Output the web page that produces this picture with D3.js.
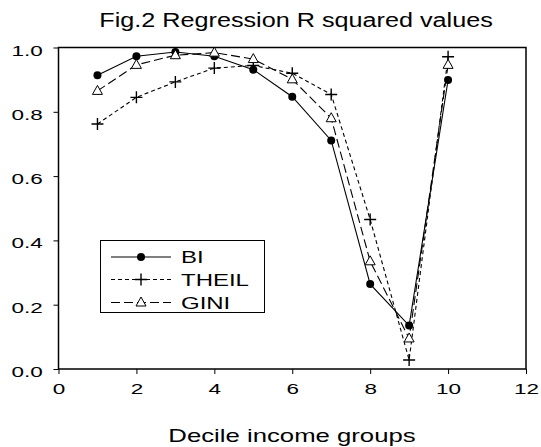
<!DOCTYPE html>
<html>
<head>
<meta charset="utf-8">
<script src="https://cdn.jsdelivr.net/npm/d3@7"></script>
<style>
  html, body { margin: 0; padding: 0; background: #fff; }
  svg { display: block; font-family: "Liberation Sans", Arial, sans-serif; }
</style>
</head>
<body>
<svg id="chart" width="541" height="447"></svg>
<script>
// Decile income groups and R squared by inequality measure
const deciles = [1, 2, 3, 4, 5, 6, 7, 8, 9, 10];
const biValues    = [0.914, 0.973, 0.986, 0.973, 0.931, 0.847, 0.711, 0.264, 0.135, 0.899];
const theilValues = [0.762, 0.845, 0.893, 0.936, 0.944, 0.920, 0.854, 0.465, 0.028, 0.971];
const giniValues  = [0.865, 0.946, 0.976, 0.984, 0.964, 0.901, 0.780, 0.335, 0.095, 0.946];
const xTicks = [0, 2, 4, 6, 8, 10, 12];
const yTicks = [0.0, 0.2, 0.4, 0.6, 0.8, 1.0];

const series = [
  { name: "BI",    values: biValues,    dash: null,    marker: "circle" },
  { name: "THEIL", values: theilValues, dash: "4,3",   marker: "plus" },
  { name: "GINI",  values: giniValues,  dash: "9,4",   marker: "triangle" }
];

const svg = d3.select("#chart");
const m = { left: 58.5, right: 526, top: 47.5, bottom: 369 };

const x = d3.scaleLinear().domain([0, 12]).range([m.left, m.right]);
const y = d3.scaleLinear().domain([0, 1]).range([m.bottom, m.top]);

// text drawn in a wide face: glyphs stretched horizontally around their anchor
function wideText(parent, tx, ty, str, size, sx, anchor) {
  return parent.append("text")
    .attr("transform", `translate(${tx},${ty}) scale(${sx},1)`)
    .attr("text-anchor", anchor || "start")
    .attr("font-size", size)
    .text(str);
}

// title
wideText(svg, 296, 27, "Fig.2 Regression R squared values", 21, 1.2, "middle");

// frame
svg.append("rect")
  .attr("x", m.left).attr("y", m.top)
  .attr("width", m.right - m.left).attr("height", m.bottom - m.top)
  .attr("fill", "none").attr("stroke", "#000").attr("stroke-width", 1.5);

// axes
const sxTick = 1.5;
const xAxis = svg.append("g")
  .attr("transform", `translate(0,${m.bottom})`)
  .call(d3.axisBottom(x).tickValues(xTicks).tickFormat(d3.format("d")).tickSize(5).tickSizeOuter(0));
const yAxis = svg.append("g")
  .attr("transform", `translate(${m.left},0)`)
  .call(d3.axisLeft(y).tickValues(yTicks).tickFormat(d3.format(".1f")).tickSize(5).tickSizeOuter(0));
[xAxis, yAxis].forEach(g => {
  g.select(".domain").remove();
  g.selectAll("line").attr("stroke", "#000");
  g.selectAll("text").attr("font-size", 15).attr("fill", "#000")
    .attr("font-family", "'Liberation Sans', Arial, sans-serif")
    .attr("transform", `scale(${sxTick},1)`);
});
xAxis.selectAll("text").attr("y", 25.5).attr("dy", 0);
yAxis.selectAll("text").attr("x", -10.5).attr("dy", "0.5em");

// x axis title
wideText(svg, 292, 442, "Decile income groups", 18, 1.43, "middle");

function drawMarker(g, type, cx, cy) {
  if (type === "circle") {
    g.append("circle").attr("cx", cx).attr("cy", cy).attr("r", 4).attr("fill", "#000");
  } else if (type === "plus") {
    g.append("path")
      .attr("d", `M${cx - 6},${cy}H${cx + 6}M${cx},${cy - 6}V${cy + 6}`)
      .attr("stroke", "#000").attr("stroke-width", 1.4).attr("fill", "none");
  } else {
    g.append("path")
      .attr("d", `M${cx},${cy - 5.5}L${cx + 5},${cy + 3.5}L${cx - 5},${cy + 3.5}Z`)
      .attr("stroke", "#000").attr("stroke-width", 1).attr("fill", "#fff");
  }
}

const line = d3.line().x(d => x(d[0])).y(d => y(d[1]));

series.forEach(s => {
  const pts = deciles.map((d, i) => [d, s.values[i]]);
  svg.append("path")
    .attr("d", line(pts))
    .attr("fill", "none").attr("stroke", "#000").attr("stroke-width", 1.1)
    .attr("stroke-dasharray", s.dash);
  const g = svg.append("g");
  pts.forEach(p => drawMarker(g, s.marker, x(p[0]), y(p[1])));
});

// legend
const lg = svg.append("g");
lg.append("rect")
  .attr("x", 100.5).attr("y", 240.5).attr("width", 164).attr("height", 72)
  .attr("fill", "#fff").attr("stroke", "#000").attr("stroke-width", 1);
const rowY = [257, 279.5, 302.5];
series.forEach((s, i) => {
  const ry = rowY[i];
  lg.append("line")
    .attr("x1", 111).attr("x2", 171).attr("y1", ry).attr("y2", ry)
    .attr("stroke", "#000").attr("stroke-width", 1.1)
    .attr("stroke-dasharray", s.dash);
  drawMarker(lg, s.marker, 141, ry);
  wideText(lg, 181, ry + 6, s.name, 16, 1.5);
});
</script>
</body>
</html>
